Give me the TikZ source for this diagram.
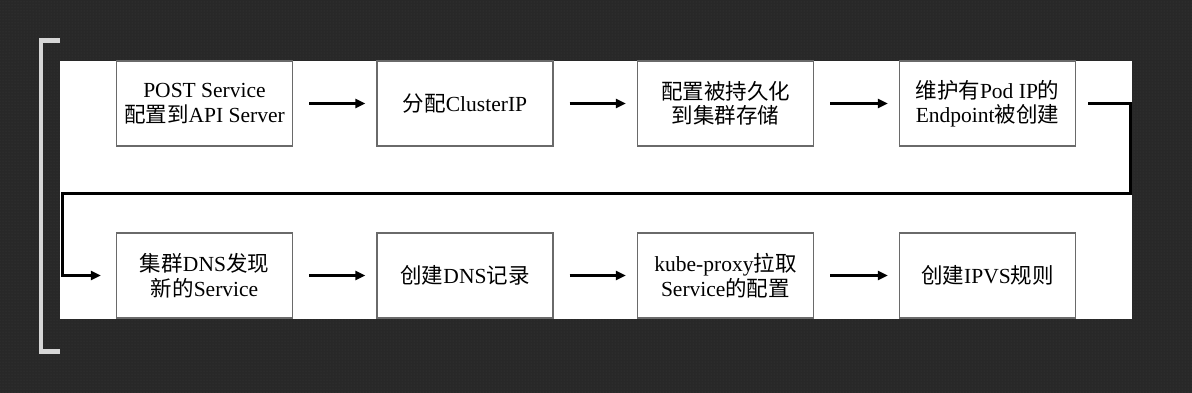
\documentclass[tikz,border=0pt]{standalone}
\usepackage{fontspec}
\setmainfont{Liberation Serif}
\newfontfamily\cjk{Noto Sans CJK SC}
\usetikzlibrary{arrows.meta,patterns}
\definecolor{bgdark}{HTML}{282828}
\definecolor{bgdot}{HTML}{3C3C3C}
\definecolor{boxline}{HTML}{6A6A6A}
\definecolor{brack}{HTML}{D6D6D6}
\tikzset{
  stepbox/.style={draw=boxline, line width=1.4pt, fill=white, minimum width=176pt, minimum height=85pt, align=center, inner sep=2pt, font=\fontsize{21.5}{24.5}\selectfont},
  arr/.style={line width=3pt, -{Triangle[length=10pt,width=9pt]}, shorten <=16pt, shorten >=11pt},
  conn/.style={line width=3pt, line join=miter},
  bracketline/.style={draw=brack, line width=4.5pt, line cap=butt, line join=miter}
}
\newcommand{\zh}[1]{{\cjk #1}}
\begin{document}
\begin{tikzpicture}[x=1pt,y=-1pt]
\useasboundingbox (0,0) rectangle (1192,392);
\fill[bgdark] (-4,-4) rectangle (1196,396);
\fill[pattern=dots, pattern color=bgdot] (-4,-4) rectangle (1196,396);
\fill[white] (60,61) rectangle (1132,319);
\draw[bracketline] (60,40.5) -- (41,40.5) -- (41,351.5) -- (60,351.5);

\node[stepbox] (b1) at (204.5,103.5) {POST Service\\\zh{配置到}API Server};
\node[stepbox] (b2) at (465,103.5) {\zh{分配}ClusterIP};
\node[stepbox] (b3) at (725.5,103.5) {\zh{配置被持久化}\\\zh{到集群存储}};
\node[stepbox] (b4) at (987.5,103.5) {\zh{维护有}Pod IP\zh{的}\\Endpoint\zh{被创建}};

\node[stepbox] (b5) at (204.5,275.5) {\zh{集群}DNS\zh{发现}\\\zh{新的}Service};
\node[stepbox] (b6) at (465,275.5) {\zh{创建}DNS\zh{记录}};
\node[stepbox] (b7) at (725.5,275.5) {kube-proxy\zh{拉取}\\Service\zh{的配置}};
\node[stepbox] (b8) at (987.5,275.5) {\zh{创建}IPVS\zh{规则}};

\draw[arr] (b1) -- (b2);
\draw[arr] (b2) -- (b3);
\draw[arr] (b3) -- (b4);
\draw[arr] (b5) -- (b6);
\draw[arr] (b6) -- (b7);
\draw[arr] (b7) -- (b8);

\coordinate (r1) at (1130,193);
\coordinate (l1) at (62,193);
\draw[conn, -{Triangle[length=10pt,width=9pt]}] ([xshift=12pt]b4.east) -| (r1) -- (l1) |- ([xshift=-15pt]b5.west);
\end{tikzpicture}
\end{document}
